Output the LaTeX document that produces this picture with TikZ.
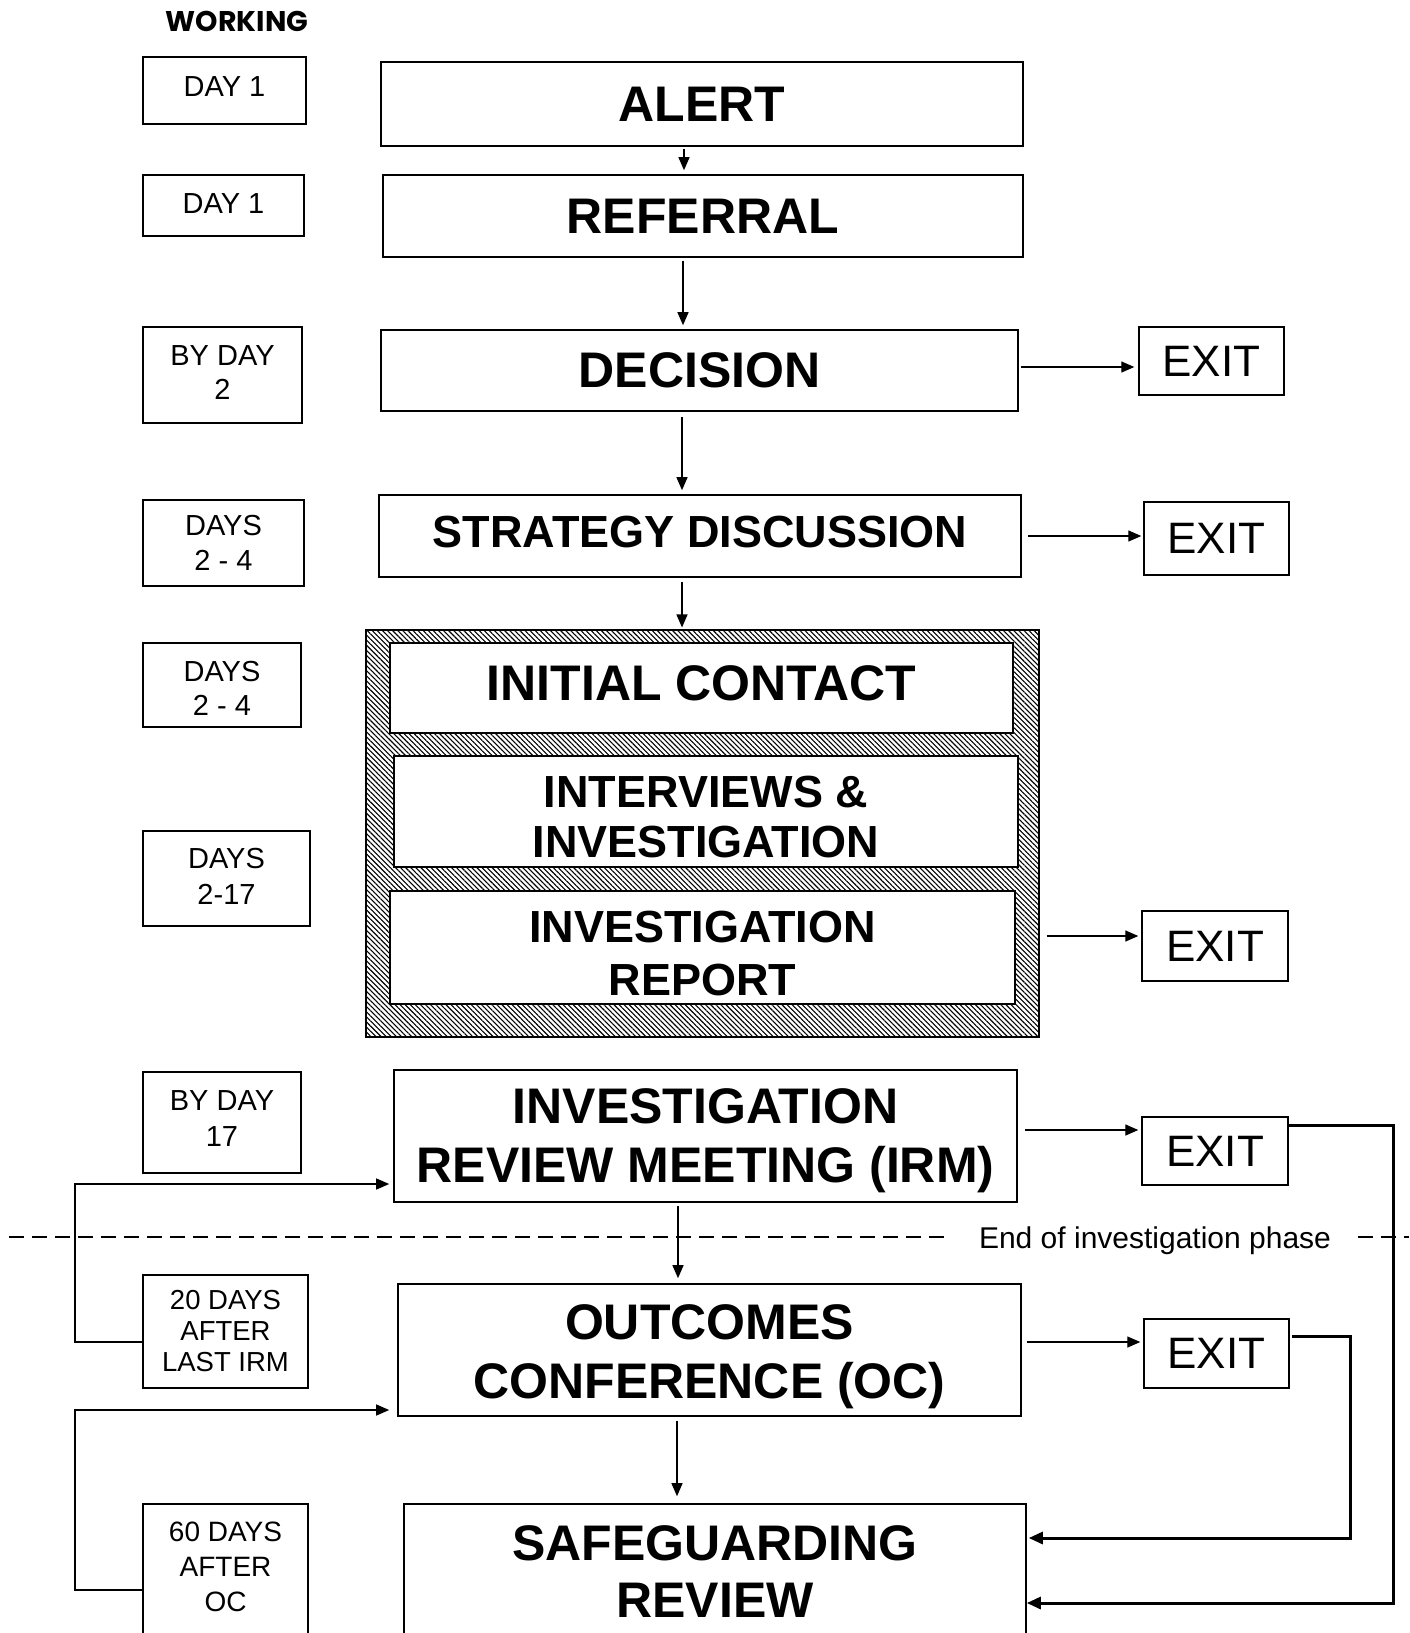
\documentclass[tikz,border=0pt]{standalone}
\usepackage{fontspec}
\setmainfont{Liberation Sans}
\newfontfamily\workfont{Poppins}
\usetikzlibrary{arrows.meta,patterns.meta}
\begin{document}
\begin{tikzpicture}[x=1pt,y=-1pt,
  box/.style={draw, line width=1.6pt, fill=white, inner sep=0pt, anchor=center},
  bigt/.style={font=\fontsize{50}{58}\selectfont\bfseries, align=center, inner sep=0pt},
  midt/.style={font=\fontsize{45}{51}\selectfont\bfseries, align=center, inner sep=0pt},
  day/.style={box, line width=1.3pt},
  dayt/.style={font=\fontsize{29}{34}\selectfont, align=center, inner sep=0pt},
  exitbox/.style={box, line width=1.4pt, font=\fontsize{44}{50}\selectfont},
  arr/.style={-{Triangle[length=13pt,width=11pt]}, line width=1.3pt},
  thickarr/.style={-{Triangle[length=14pt,width=12pt]}, line width=3pt},
  phase/.style={dash pattern=on 15pt off 8pt, line width=1.3pt}
]
\useasboundingbox (0,0) rectangle (1409,1633);
\clip (0,0) rectangle (1409,1633);

% heading
\node[anchor=base, font=\workfont\bfseries\fontsize{28.5}{33}\selectfont] (working) at (237,31) {WORKING};

% left column
\node[day, minimum width=163, minimum height=67, label={[dayt, yshift=4pt]center:DAY 1}] (d1a) at (224.5,90.5) {};
\node[day, minimum width=161, minimum height=61, label={[dayt, yshift=2pt]center:DAY 1}] (d1b) at (223.5,205.5) {};
\node[day, minimum width=159, minimum height=96, label={[dayt, yshift=2pt]center:{BY DAY\\2}}] (d2) at (222.5,375) {};
\node[day, minimum width=161, minimum height=86, label={[dayt, font=\fontsize{29}{35.5}\selectfont]center:{DAYS\\2 - 4}}] (d24a) at (223.5,543) {};
\node[day, minimum width=158, minimum height=84, label={[dayt, yshift=-3pt]center:{DAYS\\2 - 4}}] (d24b) at (222,685) {};
\node[day, minimum width=167, minimum height=95, label={[dayt, yshift=2pt, font=\fontsize{29}{35.5}\selectfont]center:{DAYS\\2-17}}] (d217) at (226.5,878.5) {};
\node[day, minimum width=158, minimum height=101, label={[dayt, yshift=4pt, font=\fontsize{29}{35.5}\selectfont]center:{BY DAY\\17}}] (d17) at (222,1122.5) {};
\node[day, minimum width=165, minimum height=113, label={[dayt, font=\fontsize{27.5}{31}\selectfont]center:{20 DAYS\\AFTER\\LAST IRM}}] (d20) at (225.5,1331.5) {};
\node[day, minimum width=165, minimum height=136, label={[dayt, yshift=5pt, font=\fontsize{28}{35}\selectfont]center:{60 DAYS\\AFTER\\OC}}] (d60) at (225.5,1572) {};

% main column
\node[box, minimum width=642, minimum height=84, label={[bigt]center:ALERT}] (alert) at (702,104) {};
\node[box, minimum width=640, minimum height=82, label={[bigt]center:REFERRAL}] (referral) at (703,216) {};
\node[box, minimum width=637, minimum height=81, label={[bigt]center:DECISION}] (decision) at (699.5,370.5) {};
\node[box, minimum width=642, minimum height=82, label={[midt, yshift=4pt]center:STRATEGY DISCUSSION}] (strategy) at (700,536) {};

\node[draw, line width=1.6pt, pattern={Lines[angle=-45, distance=3.6pt, line width=1.1pt]}, inner sep=0pt, minimum width=673, minimum height=407] (hatch) at (702.5,833.5) {};
\node[box, minimum width=623, minimum height=90, label={[bigt, yshift=5pt]center:INITIAL CONTACT}] (initial) at (701.5,688) {};
\node[box, minimum width=624, minimum height=111, label={[midt, yshift=-5pt, font=\fontsize{45}{50}\selectfont\bfseries]center:{INTERVIEWS \&\\INVESTIGATION}}] (interviews) at (706,811.5) {};
\node[box, minimum width=625, minimum height=113, label={[midt, yshift=-6pt, font=\fontsize{45}{53}\selectfont\bfseries]center:{INVESTIGATION\\REPORT}}] (report) at (702.5,947.5) {};

\node[box, minimum width=623, minimum height=132, label={[bigt, yshift=-5pt, font=\fontsize{50}{59}\selectfont\bfseries]center:{INVESTIGATION\\REVIEW MEETING (IRM)}}] (irm) at (705.5,1136) {};
\node[box, minimum width=623, minimum height=132, label={[bigt, yshift=-7pt, font=\fontsize{50}{59}\selectfont\bfseries]center:{OUTCOMES\\CONFERENCE (OC)}}] (oc) at (709.5,1350) {};
\node[box, minimum width=622, minimum height=136, label={[bigt, font=\fontsize{50}{57}\selectfont\bfseries]center:{SAFEGUARDING\\REVIEW}}] (sr) at (715,1572) {};

% exits
\node[exitbox, minimum width=145, minimum height=68] (exit1) at (1211.5,361) {EXIT};
\node[exitbox, minimum width=145, minimum height=73] (exit2) at (1216.5,538.5) {EXIT};
\node[exitbox, minimum width=146, minimum height=70] (exit3) at (1215,946) {EXIT};
\node[exitbox, minimum width=146, minimum height=68] (exit4) at (1215,1151) {EXIT};
\node[exitbox, minimum width=145, minimum height=69] (exit5) at (1216.5,1353.5) {EXIT};

% phase line
\node[anchor=base, font=\fontsize{30}{36}\selectfont, inner xsep=27pt, inner ysep=0pt] (endp) at (1155,1248) {End of investigation phase};
\coordinate (dl) at (9,1237);
\coordinate (dr) at (1409,1237);
\draw[phase] (dl) -- (endp.west |- dl);
\draw[phase] (endp.east |- dr) -- (dr);

% column coordinates
\coordinate (v1) at (684,0);
\coordinate (v2) at (683,0);
\coordinate (v3) at (682,0);
\coordinate (v4) at (678,0);
\coordinate (v5) at (677,0);

% vertical arrows
\draw[arr, shorten <=2pt, shorten >=4pt] (alert.south -| v1) -- (referral.north -| v1);
\draw[arr, shorten <=3pt, shorten >=4pt] (referral.south -| v2) -- (decision.north -| v2);
\draw[arr, shorten <=5pt, shorten >=4pt] (decision.south -| v3) -- (strategy.north -| v3);
\draw[arr, shorten <=4pt, shorten >=2pt] (strategy.south -| v3) -- (hatch.north -| v3);
\draw[arr, shorten <=3pt, shorten >=5pt] (irm.south -| v4) -- (oc.north -| v4);
\draw[arr, shorten <=4pt, shorten >=7pt] (oc.south -| v5) -- (sr.north -| v5);

% exit arrows
\coordinate (r1) at (0,367);
\coordinate (r2) at (0,536);
\coordinate (r3) at (0,936);
\coordinate (r4) at (0,1130);
\coordinate (r5) at (0,1342);
\draw[arr, shorten <=2pt, shorten >=4pt] (decision.east |- r1) -- (exit1.west |- r1);
\draw[arr, shorten <=6pt, shorten >=2pt] (strategy.east |- r2) -- (exit2.west |- r2);
\draw[arr, shorten <=7pt, shorten >=3pt] (hatch.east |- r3) -- (exit3.west |- r3);
\draw[arr, shorten <=7pt, shorten >=3pt] (irm.east |- r4) -- (exit4.west |- r4);
\draw[arr, shorten <=5pt, shorten >=3pt] (oc.east |- r5) -- (exit5.west |- r5);

% return lines on the right
\coordinate (q1) at (1393,1125);
\coordinate (q2) at (1393,1603);
\coordinate (q3) at (1350,1336);
\coordinate (q4) at (1350,1538);
\draw[thickarr, line join=miter] (exit4.east |- q1) -- (q1) -- (q2) -- (sr.east |- q2);
\draw[thickarr, line join=miter, shorten >=2pt] ([xshift=2pt]exit5.east |- q3) -- (q3) -- (q4) -- (sr.east |- q4);

% return lines on the left
\coordinate (l1) at (75,1342);
\coordinate (l2) at (75,1184);
\coordinate (l3) at (75,1590);
\coordinate (l4) at (75,1410);
\draw[arr, shorten >=4pt] (d20.west |- l1) -- (l1) -- (l2) -- (irm.west |- l2);
\draw[arr, shorten >=8pt] (d60.west |- l3) -- (l3) -- (l4) -- (oc.west |- l4);
\end{tikzpicture}
\end{document}
